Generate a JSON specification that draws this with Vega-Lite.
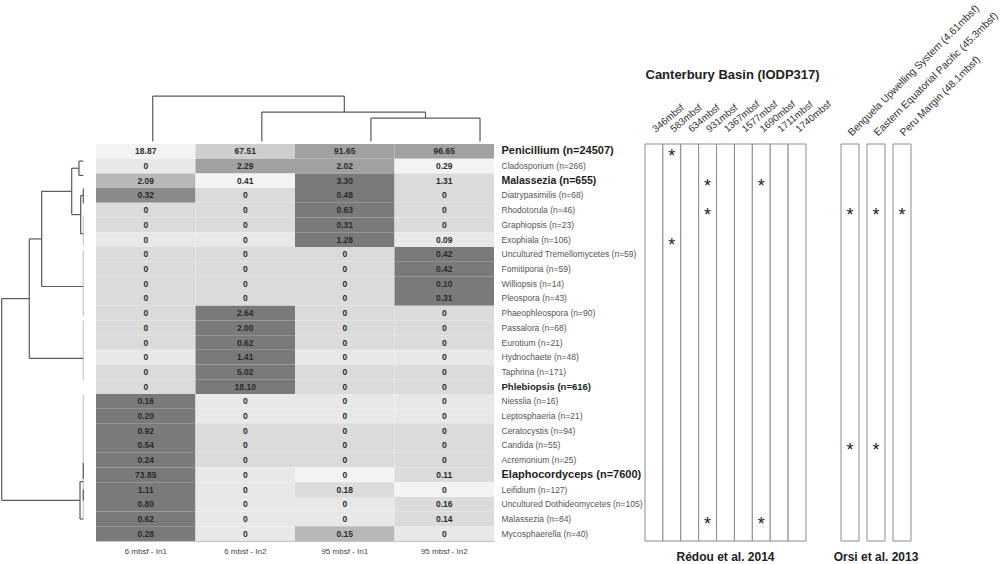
{
  "$schema": "https://vega.github.io/schema/vega-lite/v6.json",
  "padding": {"top": 2, "bottom": 0, "left": 0, "right": 0},
  "config": {"font": "Liberation Sans", "view": {"stroke": null}},
  "datasets": {
    "cells": [
      {"genus": "Penicillium (n=24507)", "sample": "6 mbsf - In1", "value": "18.87", "shade": 1},
      {"genus": "Penicillium (n=24507)", "sample": "6 mbsf - In2", "value": "67.51", "shade": 4},
      {"genus": "Penicillium (n=24507)", "sample": "95 mbsf - In1", "value": "91.65", "shade": 6},
      {"genus": "Penicillium (n=24507)", "sample": "95 mbsf - In2", "value": "96.65", "shade": 6},
      {"genus": "Cladosporium (n=266)", "sample": "6 mbsf - In1", "value": "0", "shade": 2},
      {"genus": "Cladosporium (n=266)", "sample": "6 mbsf - In2", "value": "2.29", "shade": 6},
      {"genus": "Cladosporium (n=266)", "sample": "95 mbsf - In1", "value": "2.02", "shade": 6},
      {"genus": "Cladosporium (n=266)", "sample": "95 mbsf - In2", "value": "0.29", "shade": 1},
      {"genus": "Malassezia (n=655)", "sample": "6 mbsf - In1", "value": "2.09", "shade": 5},
      {"genus": "Malassezia (n=655)", "sample": "6 mbsf - In2", "value": "0.41", "shade": 1},
      {"genus": "Malassezia (n=655)", "sample": "95 mbsf - In1", "value": "3.30", "shade": 8},
      {"genus": "Malassezia (n=655)", "sample": "95 mbsf - In2", "value": "1.31", "shade": 3},
      {"genus": "Diatrypasimilis (n=68)", "sample": "6 mbsf - In1", "value": "0.32", "shade": 7},
      {"genus": "Diatrypasimilis (n=68)", "sample": "6 mbsf - In2", "value": "0", "shade": 3},
      {"genus": "Diatrypasimilis (n=68)", "sample": "95 mbsf - In1", "value": "0.48", "shade": 8},
      {"genus": "Diatrypasimilis (n=68)", "sample": "95 mbsf - In2", "value": "0", "shade": 3},
      {"genus": "Rhodotorula (n=46)", "sample": "6 mbsf - In1", "value": "0", "shade": 3},
      {"genus": "Rhodotorula (n=46)", "sample": "6 mbsf - In2", "value": "0", "shade": 3},
      {"genus": "Rhodotorula (n=46)", "sample": "95 mbsf - In1", "value": "0.63", "shade": 8},
      {"genus": "Rhodotorula (n=46)", "sample": "95 mbsf - In2", "value": "0", "shade": 3},
      {"genus": "Graphiopsis (n=23)", "sample": "6 mbsf - In1", "value": "0", "shade": 3},
      {"genus": "Graphiopsis (n=23)", "sample": "6 mbsf - In2", "value": "0", "shade": 3},
      {"genus": "Graphiopsis (n=23)", "sample": "95 mbsf - In1", "value": "0.31", "shade": 8},
      {"genus": "Graphiopsis (n=23)", "sample": "95 mbsf - In2", "value": "0", "shade": 3},
      {"genus": "Exophiala (n=106)", "sample": "6 mbsf - In1", "value": "0", "shade": 2},
      {"genus": "Exophiala (n=106)", "sample": "6 mbsf - In2", "value": "0", "shade": 2},
      {"genus": "Exophiala (n=106)", "sample": "95 mbsf - In1", "value": "1.28", "shade": 8},
      {"genus": "Exophiala (n=106)", "sample": "95 mbsf - In2", "value": "0.09", "shade": 2},
      {"genus": "Uncultured Tremellomycetes (n=59)", "sample": "6 mbsf - In1", "value": "0", "shade": 3},
      {"genus": "Uncultured Tremellomycetes (n=59)", "sample": "6 mbsf - In2", "value": "0", "shade": 3},
      {"genus": "Uncultured Tremellomycetes (n=59)", "sample": "95 mbsf - In1", "value": "0", "shade": 3},
      {"genus": "Uncultured Tremellomycetes (n=59)", "sample": "95 mbsf - In2", "value": "0.42", "shade": 8},
      {"genus": "Fomitiporia (n=59)", "sample": "6 mbsf - In1", "value": "0", "shade": 3},
      {"genus": "Fomitiporia (n=59)", "sample": "6 mbsf - In2", "value": "0", "shade": 3},
      {"genus": "Fomitiporia (n=59)", "sample": "95 mbsf - In1", "value": "0", "shade": 3},
      {"genus": "Fomitiporia (n=59)", "sample": "95 mbsf - In2", "value": "0.42", "shade": 8},
      {"genus": "Williopsis (n=14)", "sample": "6 mbsf - In1", "value": "0", "shade": 3},
      {"genus": "Williopsis (n=14)", "sample": "6 mbsf - In2", "value": "0", "shade": 3},
      {"genus": "Williopsis (n=14)", "sample": "95 mbsf - In1", "value": "0", "shade": 3},
      {"genus": "Williopsis (n=14)", "sample": "95 mbsf - In2", "value": "0.10", "shade": 8},
      {"genus": "Pleospora (n=43)", "sample": "6 mbsf - In1", "value": "0", "shade": 3},
      {"genus": "Pleospora (n=43)", "sample": "6 mbsf - In2", "value": "0", "shade": 3},
      {"genus": "Pleospora (n=43)", "sample": "95 mbsf - In1", "value": "0", "shade": 3},
      {"genus": "Pleospora (n=43)", "sample": "95 mbsf - In2", "value": "0.31", "shade": 8},
      {"genus": "Phaeophleospora (n=90)", "sample": "6 mbsf - In1", "value": "0", "shade": 3},
      {"genus": "Phaeophleospora (n=90)", "sample": "6 mbsf - In2", "value": "2.64", "shade": 8},
      {"genus": "Phaeophleospora (n=90)", "sample": "95 mbsf - In1", "value": "0", "shade": 3},
      {"genus": "Phaeophleospora (n=90)", "sample": "95 mbsf - In2", "value": "0", "shade": 3},
      {"genus": "Passalora (n=68)", "sample": "6 mbsf - In1", "value": "0", "shade": 3},
      {"genus": "Passalora (n=68)", "sample": "6 mbsf - In2", "value": "2.00", "shade": 8},
      {"genus": "Passalora (n=68)", "sample": "95 mbsf - In1", "value": "0", "shade": 3},
      {"genus": "Passalora (n=68)", "sample": "95 mbsf - In2", "value": "0", "shade": 3},
      {"genus": "Eurotium (n=21)", "sample": "6 mbsf - In1", "value": "0", "shade": 3},
      {"genus": "Eurotium (n=21)", "sample": "6 mbsf - In2", "value": "0.62", "shade": 8},
      {"genus": "Eurotium (n=21)", "sample": "95 mbsf - In1", "value": "0", "shade": 3},
      {"genus": "Eurotium (n=21)", "sample": "95 mbsf - In2", "value": "0", "shade": 3},
      {"genus": "Hydnochaete (n=48)", "sample": "6 mbsf - In1", "value": "0", "shade": 2},
      {"genus": "Hydnochaete (n=48)", "sample": "6 mbsf - In2", "value": "1.41", "shade": 8},
      {"genus": "Hydnochaete (n=48)", "sample": "95 mbsf - In1", "value": "0", "shade": 2},
      {"genus": "Hydnochaete (n=48)", "sample": "95 mbsf - In2", "value": "0", "shade": 2},
      {"genus": "Taphrina (n=171)", "sample": "6 mbsf - In1", "value": "0", "shade": 3},
      {"genus": "Taphrina (n=171)", "sample": "6 mbsf - In2", "value": "5.02", "shade": 8},
      {"genus": "Taphrina (n=171)", "sample": "95 mbsf - In1", "value": "0", "shade": 3},
      {"genus": "Taphrina (n=171)", "sample": "95 mbsf - In2", "value": "0", "shade": 3},
      {"genus": "Phlebiopsis (n=616)", "sample": "6 mbsf - In1", "value": "0", "shade": 3},
      {"genus": "Phlebiopsis (n=616)", "sample": "6 mbsf - In2", "value": "18.10", "shade": 8},
      {"genus": "Phlebiopsis (n=616)", "sample": "95 mbsf - In1", "value": "0", "shade": 3},
      {"genus": "Phlebiopsis (n=616)", "sample": "95 mbsf - In2", "value": "0", "shade": 3},
      {"genus": "Niesslia (n=16)", "sample": "6 mbsf - In1", "value": "0.16", "shade": 8},
      {"genus": "Niesslia (n=16)", "sample": "6 mbsf - In2", "value": "0", "shade": 2},
      {"genus": "Niesslia (n=16)", "sample": "95 mbsf - In1", "value": "0", "shade": 2},
      {"genus": "Niesslia (n=16)", "sample": "95 mbsf - In2", "value": "0", "shade": 2},
      {"genus": "Leptosphaeria (n=21)", "sample": "6 mbsf - In1", "value": "0.20", "shade": 8},
      {"genus": "Leptosphaeria (n=21)", "sample": "6 mbsf - In2", "value": "0", "shade": 2},
      {"genus": "Leptosphaeria (n=21)", "sample": "95 mbsf - In1", "value": "0", "shade": 2},
      {"genus": "Leptosphaeria (n=21)", "sample": "95 mbsf - In2", "value": "0", "shade": 2},
      {"genus": "Ceratocystis (n=94)", "sample": "6 mbsf - In1", "value": "0.92", "shade": 8},
      {"genus": "Ceratocystis (n=94)", "sample": "6 mbsf - In2", "value": "0", "shade": 3},
      {"genus": "Ceratocystis (n=94)", "sample": "95 mbsf - In1", "value": "0", "shade": 3},
      {"genus": "Ceratocystis (n=94)", "sample": "95 mbsf - In2", "value": "0", "shade": 3},
      {"genus": "Candida (n=55)", "sample": "6 mbsf - In1", "value": "0.54", "shade": 8},
      {"genus": "Candida (n=55)", "sample": "6 mbsf - In2", "value": "0", "shade": 3},
      {"genus": "Candida (n=55)", "sample": "95 mbsf - In1", "value": "0", "shade": 3},
      {"genus": "Candida (n=55)", "sample": "95 mbsf - In2", "value": "0", "shade": 3},
      {"genus": "Acremonium (n=25)", "sample": "6 mbsf - In1", "value": "0.24", "shade": 8},
      {"genus": "Acremonium (n=25)", "sample": "6 mbsf - In2", "value": "0", "shade": 3},
      {"genus": "Acremonium (n=25)", "sample": "95 mbsf - In1", "value": "0", "shade": 3},
      {"genus": "Acremonium (n=25)", "sample": "95 mbsf - In2", "value": "0", "shade": 3},
      {"genus": "Elaphocordyceps (n=7600)", "sample": "6 mbsf - In1", "value": "73.85", "shade": 8},
      {"genus": "Elaphocordyceps (n=7600)", "sample": "6 mbsf - In2", "value": "0", "shade": 2},
      {"genus": "Elaphocordyceps (n=7600)", "sample": "95 mbsf - In1", "value": "0", "shade": 1},
      {"genus": "Elaphocordyceps (n=7600)", "sample": "95 mbsf - In2", "value": "0.11", "shade": 3},
      {"genus": "Leifidium (n=127)", "sample": "6 mbsf - In1", "value": "1.11", "shade": 8},
      {"genus": "Leifidium (n=127)", "sample": "6 mbsf - In2", "value": "0", "shade": 2},
      {"genus": "Leifidium (n=127)", "sample": "95 mbsf - In1", "value": "0.18", "shade": 3},
      {"genus": "Leifidium (n=127)", "sample": "95 mbsf - In2", "value": "0", "shade": 1},
      {"genus": "Uncultured Dothideomycetes (n=105)", "sample": "6 mbsf - In1", "value": "0.80", "shade": 8},
      {"genus": "Uncultured Dothideomycetes (n=105)", "sample": "6 mbsf - In2", "value": "0", "shade": 2},
      {"genus": "Uncultured Dothideomycetes (n=105)", "sample": "95 mbsf - In1", "value": "0", "shade": 2},
      {"genus": "Uncultured Dothideomycetes (n=105)", "sample": "95 mbsf - In2", "value": "0.16", "shade": 3},
      {"genus": "Malassezia (n=84)", "sample": "6 mbsf - In1", "value": "0.62", "shade": 8},
      {"genus": "Malassezia (n=84)", "sample": "6 mbsf - In2", "value": "0", "shade": 2},
      {"genus": "Malassezia (n=84)", "sample": "95 mbsf - In1", "value": "0", "shade": 2},
      {"genus": "Malassezia (n=84)", "sample": "95 mbsf - In2", "value": "0.14", "shade": 3},
      {"genus": "Mycosphaerella (n=40)", "sample": "6 mbsf - In1", "value": "0.28", "shade": 8},
      {"genus": "Mycosphaerella (n=40)", "sample": "6 mbsf - In2", "value": "0", "shade": 2},
      {"genus": "Mycosphaerella (n=40)", "sample": "95 mbsf - In1", "value": "0.15", "shade": 5},
      {"genus": "Mycosphaerella (n=40)", "sample": "95 mbsf - In2", "value": "0", "shade": 2}
    ],
    "leftTree": [
      {"x": 0, "x2": 0, "y": 3.95, "y2": 6.1, "kind": "zero"},
      {"x": 0, "x2": 0, "y": 6.5, "y2": 11.3, "kind": "zero"},
      {"x": 0, "x2": 0, "y": 11.6, "y2": 15.9, "kind": "zero"},
      {"x": 0, "x2": 0, "y": 17.0, "y2": 26.0, "kind": "zero"},
      {"x": 0.053, "x2": 0.053, "y": 0, "y2": 1.04, "kind": "branch"},
      {"x": 0.053, "x2": 0, "y": 0, "y2": 0, "kind": "branch"},
      {"x": 0.053, "x2": 0, "y": 1.04, "y2": 1.04, "kind": "branch"},
      {"x": 0.142, "x2": 0.053, "y": 0.52, "y2": 0.52, "kind": "branch"},
      {"x": 0.142, "x2": 0.142, "y": 0.52, "y2": 3.89, "kind": "branch"},
      {"x": 0.142, "x2": 0.032, "y": 3.89, "y2": 3.89, "kind": "branch"},
      {"x": 0.032, "x2": 0.032, "y": 2.5, "y2": 5.28, "kind": "branch"},
      {"x": 0.032, "x2": 0, "y": 2.5, "y2": 2.5, "kind": "branch"},
      {"x": 0.032, "x2": 0, "y": 5.28, "y2": 5.28, "kind": "branch"},
      {"x": 0.51, "x2": 0.142, "y": 2.2, "y2": 2.2, "kind": "branch"},
      {"x": 0.51, "x2": 0.51, "y": 2.2, "y2": 9.12, "kind": "branch"},
      {"x": 0.51, "x2": 0, "y": 9.12, "y2": 9.12, "kind": "branch"},
      {"x": 0.662, "x2": 0.51, "y": 5.66, "y2": 5.66, "kind": "branch"},
      {"x": 0.662, "x2": 0.662, "y": 5.66, "y2": 14.34, "kind": "branch"},
      {"x": 0.662, "x2": 0, "y": 14.34, "y2": 14.34, "kind": "branch"},
      {"x": 1.0, "x2": 0.662, "y": 10.0, "y2": 10.0, "kind": "branch"},
      {"x": 1.0, "x2": 1.0, "y": 10.0, "y2": 24.67, "kind": "branch"},
      {"x": 1.0, "x2": 0.04, "y": 24.67, "y2": 24.67, "kind": "branch"},
      {"x": 0.04, "x2": 0.04, "y": 23.31, "y2": 26.03, "kind": "branch"},
      {"x": 0.04, "x2": 0, "y": 23.31, "y2": 23.31, "kind": "branch"},
      {"x": 0.04, "x2": 0, "y": 26.03, "y2": 26.03, "kind": "branch"},
      {"x": 0, "x2": 0, "y": 1.99, "y2": 3.08, "kind": "branch"},
      {"x": 0, "x2": 0, "y": 21.98, "y2": 23.11, "kind": "branch"},
      {"x": 0, "x2": 0, "y": 23.89, "y2": 24.69, "kind": "branch"}
    ],
    "topTree": [
      {"x": 0, "x2": 1.756, "y": 1, "y2": 1},
      {"x": 0, "x2": 0, "y": 0, "y2": 1},
      {"x": 1.756, "x2": 1.756, "y": 0.647, "y2": 1},
      {"x": 1, "x2": 2.5, "y": 0.647, "y2": 0.647},
      {"x": 1, "x2": 1, "y": 0, "y2": 0.647},
      {"x": 2.5, "x2": 2.5, "y": 0.515, "y2": 0.647},
      {"x": 2, "x2": 3, "y": 0.515, "y2": 0.515},
      {"x": 2, "x2": 2, "y": 0, "y2": 0.515},
      {"x": 3, "x2": 3, "y": 0, "y2": 0.515}
    ],
    "cbSites": [
      {"depth": "346mbsf"}, {"depth": "583mbsf"}, {"depth": "634mbsf"}, {"depth": "931mbsf"},
      {"depth": "1367mbsf"}, {"depth": "1577mbsf"}, {"depth": "1690mbsf"}, {"depth": "1711mbsf"}, {"depth": "1740mbsf"}
    ],
    "cbStars": [
      {"depth": "583mbsf", "genus": "Penicillium (n=24507)"},
      {"depth": "931mbsf", "genus": "Malassezia (n=655)"},
      {"depth": "1690mbsf", "genus": "Malassezia (n=655)"},
      {"depth": "931mbsf", "genus": "Rhodotorula (n=46)"},
      {"depth": "583mbsf", "genus": "Exophiala (n=106)"},
      {"depth": "931mbsf", "genus": "Malassezia (n=84)"},
      {"depth": "1690mbsf", "genus": "Malassezia (n=84)"}
    ],
    "orsiSites": [
      {"site": "Benguela Upwelling System (4.61mbsf)"},
      {"site": "Eastern Equatorial Pacific (45.3mbsf)"},
      {"site": "Peru Margin (48.1mbsf)"}
    ],
    "orsiStars": [
      {"site": "Benguela Upwelling System (4.61mbsf)", "genus": "Rhodotorula (n=46)"},
      {"site": "Eastern Equatorial Pacific (45.3mbsf)", "genus": "Rhodotorula (n=46)"},
      {"site": "Peru Margin (48.1mbsf)", "genus": "Rhodotorula (n=46)"},
      {"site": "Benguela Upwelling System (4.61mbsf)", "genus": "Candida (n=55)"},
      {"site": "Eastern Equatorial Pacific (45.3mbsf)", "genus": "Candida (n=55)"}
    ]
  },
  "spacing": 0,
  "bounds": "flush",
  "resolve": {"scale": {"color": "independent"}},
  "hconcat": [
    {
      "width": 96, "height": 397,
      "data": {"name": "leftTree"},
      "mark": {"type": "rule", "strokeWidth": 1.2},
      "encoding": {
        "x": {"field": "x", "type": "quantitative", "scale": {"domain": [-0.156, 1.021], "reverse": true, "nice": false, "zero": false}, "axis": null},
        "x2": {"field": "x2"},
        "y": {"field": "y", "type": "quantitative", "scale": {"domain": [-1.245, 27.63], "reverse": true, "nice": false, "zero": false}, "axis": null},
        "y2": {"field": "y2"},
        "color": {"field": "kind", "type": "nominal", "scale": {"domain": ["branch", "zero"], "range": ["#5a5a5a", "#c8c8c8"]}, "legend": null}
      }
    },
    {
      "width": 398, "height": 397,
      "layer": [
        {
          "data": {"name": "cells"},
          "layer": [
            {
              "mark": {"type": "rect"},
              "encoding": {
                "x": {"field": "sample", "type": "nominal", "sort": null, "scale": {"paddingInner": 0, "paddingOuter": 0},
                  "axis": {"orient": "bottom", "title": null, "labelAngle": 0, "labelFontSize": 8, "labelColor": "#444", "labelPadding": 6, "ticks": false, "tickSize": 0, "domain": true, "domainColor": "#c4c4c4"}},
                "y": {"field": "genus", "type": "nominal", "sort": null, "scale": {"paddingInner": 0, "paddingOuter": 0},
                  "axis": {"orient": "right", "title": null, "ticks": false, "tickSize": 0, "domain": false, "labelPadding": 7, "labelLimit": 300,
                    "labelFontWeight": {"condition": {"test": "indexof(['Penicillium (n=24507)','Malassezia (n=655)','Phlebiopsis (n=616)','Elaphocordyceps (n=7600)'], datum.value) >= 0", "value": "bold"}, "value": "normal"},
                    "labelFontSize": {"condition": [
                      {"test": "datum.value === 'Penicillium (n=24507)' || datum.value === 'Elaphocordyceps (n=7600)'", "value": 11},
                      {"test": "datum.value === 'Malassezia (n=655)'", "value": 10.5},
                      {"test": "datum.value === 'Phlebiopsis (n=616)'", "value": 9.5}
                    ], "value": 8.5},
                    "labelColor": {"condition": {"test": "indexof(['Penicillium (n=24507)','Malassezia (n=655)','Phlebiopsis (n=616)','Elaphocordyceps (n=7600)'], datum.value) >= 0", "value": "#1e1e1e"}, "value": "#555555"}
                  }},
                "color": {"field": "shade", "type": "ordinal", "scale": {"domain": [1, 2, 3, 4, 5, 6, 7, 8], "range": ["#f3f3f3", "#e8e8e8", "#dbdbdb", "#cecece", "#b8b8b8", "#a1a1a1", "#8a8a8a", "#7a7a7a"]}, "legend": null}
              }
            },
            {
              "mark": {"type": "text", "fontSize": 8.5, "fontWeight": "bold", "color": "#2b2b2b"},
              "encoding": {
                "x": {"field": "sample", "type": "nominal", "sort": null},
                "y": {"field": "genus", "type": "nominal", "sort": null},
                "text": {"field": "value"}
              }
            }
          ]
        },
        {
          "data": {"name": "topTree"},
          "mark": {"type": "rule", "color": "#5a5a5a", "strokeWidth": 1.2},
          "encoding": {
            "x": {"field": "x", "type": "quantitative", "scale": {"domain": [-0.52, 3.128], "nice": false, "zero": false}, "axis": null},
            "x2": {"field": "x2"},
            "y": {"field": "y", "type": "quantitative", "scale": {"domain": [-8.821, -0.057], "nice": false, "zero": false}, "axis": null},
            "y2": {"field": "y2"}
          }
        }
      ],
      "resolve": {"scale": {"x": "independent", "y": "independent"}}
    },
    {"width": 151, "height": 397, "data": {"values": []}, "mark": "point"},
    {
      "width": 161, "height": 397,
      "title": {"text": "Rédou et al. 2014", "orient": "bottom", "fontSize": 12, "fontWeight": "bold", "color": "#222", "offset": 10.5},
      "layer": [
        {
          "data": {"name": "cbSites"},
          "mark": {"type": "rect", "fill": "white", "stroke": "#8c8c8c", "strokeWidth": 1},
          "encoding": {
            "x": {"field": "depth", "type": "nominal",
              "scale": {"domain": ["346mbsf", "583mbsf", "634mbsf", "931mbsf", "1367mbsf", "1577mbsf", "1690mbsf", "1711mbsf", "1740mbsf"], "paddingInner": 0, "paddingOuter": 0},
              "axis": {"orient": "top", "labelAngle": -40, "labelAlign": "left", "labelBaseline": "middle", "labelPadding": 14, "ticks": false, "tickSize": 0, "domain": false, "labelFontSize": 9.8, "labelColor": "#333",
                "title": "Canterbury Basin (IODP317)", "titleFontSize": 13, "titleFontWeight": "bold", "titleColor": "#222", "titleAnchor": "start", "titlePadding": 17}}
          }
        },
        {
          "data": {"name": "cbStars"},
          "mark": {"type": "text", "text": "*", "fontSize": 18, "dy": 6, "color": "#222"},
          "encoding": {
            "x": {"field": "depth", "type": "nominal"},
            "y": {"field": "genus", "type": "nominal",
              "scale": {"domain": ["Penicillium (n=24507)", "Cladosporium (n=266)", "Malassezia (n=655)", "Diatrypasimilis (n=68)", "Rhodotorula (n=46)", "Graphiopsis (n=23)", "Exophiala (n=106)", "Uncultured Tremellomycetes (n=59)", "Fomitiporia (n=59)", "Williopsis (n=14)", "Pleospora (n=43)", "Phaeophleospora (n=90)", "Passalora (n=68)", "Eurotium (n=21)", "Hydnochaete (n=48)", "Taphrina (n=171)", "Phlebiopsis (n=616)", "Niesslia (n=16)", "Leptosphaeria (n=21)", "Ceratocystis (n=94)", "Candida (n=55)", "Acremonium (n=25)", "Elaphocordyceps (n=7600)", "Leifidium (n=127)", "Uncultured Dothideomycetes (n=105)", "Malassezia (n=84)", "Mycosphaerella (n=40)"], "paddingInner": 0, "paddingOuter": 0},
              "axis": null}
          }
        }
      ]
    },
    {"width": 34.7, "height": 397, "data": {"values": []}, "mark": "point"},
    {
      "width": 70, "height": 397,
      "title": {"text": "Orsi et al. 2013", "orient": "bottom", "fontSize": 12, "fontWeight": "bold", "color": "#222", "offset": 10.5},
      "layer": [
        {
          "data": {"name": "orsiSites"},
          "mark": {"type": "rect", "fill": "white", "stroke": "#8c8c8c", "strokeWidth": 1},
          "encoding": {
            "x": {"field": "site", "type": "nominal",
              "scale": {"domain": ["Benguela Upwelling System (4.61mbsf)", "Eastern Equatorial Pacific (45.3mbsf)", "Peru Margin (48.1mbsf)"], "paddingInner": 0.3077, "paddingOuter": 0},
              "axis": {"orient": "top", "title": null, "labelAngle": -45, "labelAlign": "left", "labelBaseline": "middle", "labelPadding": 10, "ticks": false, "tickSize": 0, "domain": false, "labelFontSize": 10.3, "labelColor": "#333", "labelLimit": 300}}
          }
        },
        {
          "data": {"name": "orsiStars"},
          "mark": {"type": "text", "text": "*", "fontSize": 18, "dy": 6, "color": "#222"},
          "encoding": {
            "x": {"field": "site", "type": "nominal"},
            "y": {"field": "genus", "type": "nominal",
              "scale": {"domain": ["Penicillium (n=24507)", "Cladosporium (n=266)", "Malassezia (n=655)", "Diatrypasimilis (n=68)", "Rhodotorula (n=46)", "Graphiopsis (n=23)", "Exophiala (n=106)", "Uncultured Tremellomycetes (n=59)", "Fomitiporia (n=59)", "Williopsis (n=14)", "Pleospora (n=43)", "Phaeophleospora (n=90)", "Passalora (n=68)", "Eurotium (n=21)", "Hydnochaete (n=48)", "Taphrina (n=171)", "Phlebiopsis (n=616)", "Niesslia (n=16)", "Leptosphaeria (n=21)", "Ceratocystis (n=94)", "Candida (n=55)", "Acremonium (n=25)", "Elaphocordyceps (n=7600)", "Leifidium (n=127)", "Uncultured Dothideomycetes (n=105)", "Malassezia (n=84)", "Mycosphaerella (n=40)"], "paddingInner": 0, "paddingOuter": 0},
              "axis": null}
          }
        }
      ]
    }
  ]
}
